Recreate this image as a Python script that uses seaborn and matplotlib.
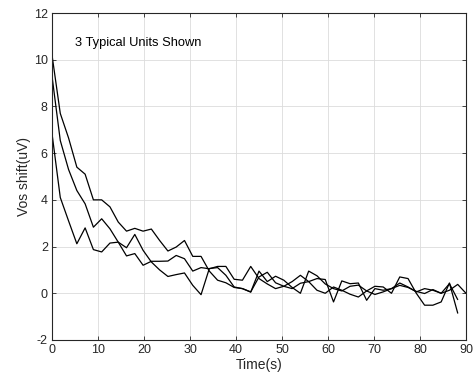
import numpy as np
import pandas as pd
import matplotlib
matplotlib.use("Agg")
import matplotlib.pyplot as plt
import seaborn as sns

# sample step of the recordings (s)
step_s = 1.8

unit_a = [10.2, 7.7, 6.65, 5.4, 5.1, 4.0, 4.0, 3.7, 3.05, 2.66, 2.78, 2.66, 2.75, 2.26, 1.81, 1.98, 2.26, 1.58, 1.58, 0.95,
          0.56, 0.45, 0.25, 0.2, 0.05, 0.95, 0.5, 0.73, 0.56, 0.25, 0.0,
          0.95, 0.75, 0.4, 0.2, 0.1, 0.3, 0.35, 0.1, -0.05, 0.06,
          0.2, 0.34, 0.25, 0.08, -0.01, 0.16, 0.0, 0.13, 0.38, 0.0]
unit_b = [9.3, 6.54, 5.3, 4.4, 3.83, 2.83, 3.19, 2.76, 2.19, 1.6, 1.7, 1.2, 1.37, 1.37, 1.38, 1.62, 1.48, 0.95, 1.1, 1.05,
          1.15, 1.15, 0.6, 0.56, 1.15, 0.63, 0.4, 0.2, 0.3, 0.5, 0.77,
          0.5, 0.13, 0.0, 0.27, 0.13, -0.04, -0.16, 0.1, 0.3, 0.27,
          0.0, 0.7, 0.63, 0.0, -0.51, -0.51, -0.37, 0.44, -0.85]
unit_c = [6.84, 4.1, 3.1, 2.12, 2.8, 1.87, 1.77, 2.15, 2.19, 1.95, 2.52, 1.84, 1.34, 1.0, 0.72, 0.8, 0.87, 0.34, -0.06, 1.06, 1.1,
          0.77, 0.27, 0.2, 0.06, 0.7, 0.9, 0.45, 0.3, 0.2, 0.43,
          0.5, 0.63, 0.59, -0.37, 0.53, 0.41, 0.44, -0.3, 0.2, 0.13,
          0.2, 0.44, 0.27, 0.06, 0.2, 0.13, 0.0, 0.41, -0.27]

x_ticks = [0, 10, 20, 30, 40, 50, 60, 70, 80, 90]
y_ticks = [-2, 0, 2, 4, 6, 8, 10, 12]
annotation = "3 Typical Units Shown"

frames = []
for name, vals in [("A", unit_a), ("B", unit_b), ("C", unit_c)]:
    t = np.arange(len(vals)) * step_s
    frames.append(pd.DataFrame({"time": t, "vos": vals, "unit": name}))
df = pd.concat(frames, ignore_index=True)

sns.set_theme(style="white")
plt.rcParams["font.family"] = ["Liberation Sans", "DejaVu Sans"]
plt.rcParams["axes.unicode_minus"] = False

fig = plt.figure(figsize=(4.75, 3.83), dpi=100)
ax = fig.add_axes([52 / 475, 1 - 340 / 383, (466 - 52) / 475, (340 - 13) / 383])

sns.lineplot(data=df, x="time", y="vos", hue="unit", units="unit", estimator=None,
             sort=False, palette=["black", "black", "black"], linewidth=0.9,
             legend=False, ax=ax)

ax.set_xlim(0, 90)
ax.set_ylim(-2, 12)
ax.set_xticks(x_ticks)
ax.set_yticks(y_ticks)
ax.grid(True, color="#dcdcdc", linewidth=0.6)
ax.set_axisbelow(True)
for s in ax.spines.values():
    s.set_color("#262626")
    s.set_linewidth(0.8)
ax.tick_params(direction="in", length=3, width=0.6, colors="#262626",
               labelsize=9, top=True, right=True, bottom=True, left=True,
               labeltop=False, labelright=False, pad=3)
ax.set_xlabel("Time(s)", fontsize=10, color="#262626", labelpad=1)
ax.set_ylabel("Vos shift(uV)", fontsize=10, color="#262626", labelpad=2)
ax.text(5, 10.7, annotation, fontsize=9.3, color="black", va="center", ha="left")

fig.savefig("out.png", dpi=100)
